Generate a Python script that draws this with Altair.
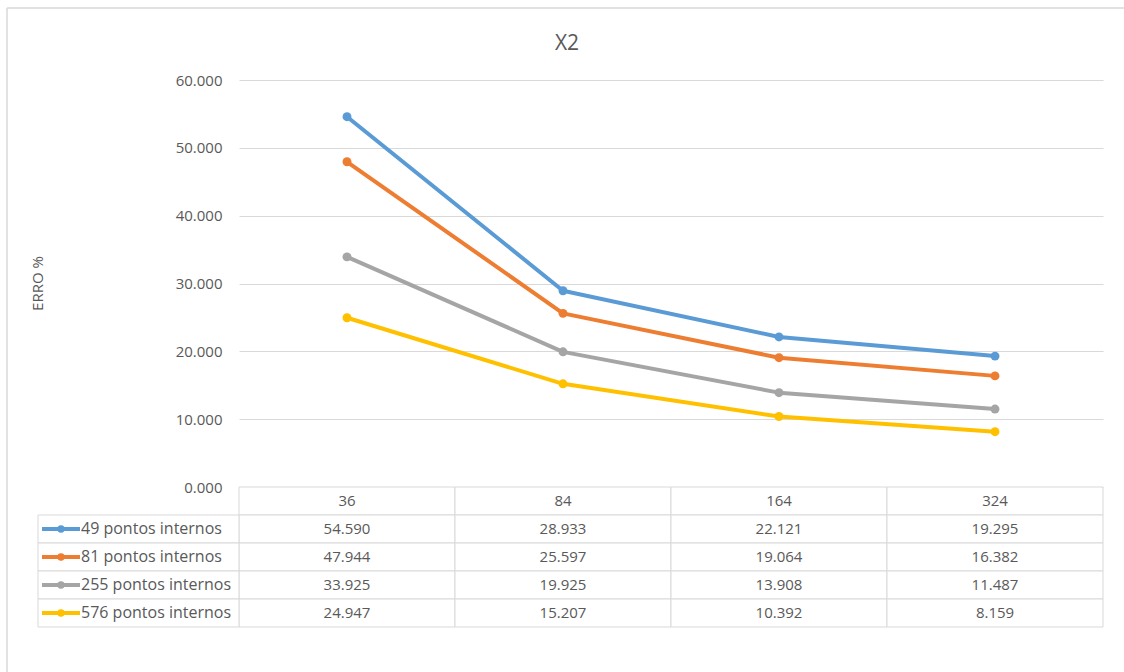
import altair as alt
import pandas as pd

FONT = "Open Sans"
TEXT_COLOR = "#595959"
GRID_COLOR = "#D9D9D9"

# Boundary point counts (x categories) and the four internal-point series
boundary_points = ["36", "84", "164", "324"]
series_names = [
    "49 pontos internos",
    "81 pontos internos",
    "255 pontos internos",
    "576 pontos internos",
]
series_colors = ["#5B9BD5", "#ED7D31", "#A5A5A5", "#FFC000"]

err_49 = [54.590, 28.933, 22.121, 19.295]
err_81 = [47.944, 25.597, 19.064, 16.382]
err_255 = [33.925, 19.925, 13.908, 11.487]
err_576 = [24.947, 15.207, 10.392, 8.159]

y_ticks = [0, 10, 20, 30, 40, 50, 60]

PLOT_W = 864
PLOT_H = 407
TABLE_H = 140

all_series = [err_49, err_81, err_255, err_576]

rows = []
for name, values in zip(series_names, all_series):
    for p, v in zip(boundary_points, values):
        rows.append({"serie": name, "pontos": p, "erro": v})
line_df = pd.DataFrame(rows)

# Data table below the plot: header row with the categories, then one row per series
table_rows = ["header"] + series_names
cells = []
for p in boundary_points:
    cells.append({"row": "header", "pontos": p, "txt": p})
for name, values in zip(series_names, all_series):
    for p, v in zip(boundary_points, values):
        cells.append({"row": name, "pontos": p, "txt": f"{v:.3f}"})
cells_df = pd.DataFrame(cells)
labels_df = pd.DataFrame({"row": series_names, "serie": series_names})

color = alt.Color(
    "serie:N",
    scale=alt.Scale(domain=series_names, range=series_colors),
    legend=None,
)

# ---- line plot ----
x_line = alt.X(
    "pontos:O",
    sort=boundary_points,
    scale=alt.Scale(type="point", domain=boundary_points, padding=0.5),
    axis=None,
)
y_line = alt.Y(
    "erro:Q",
    scale=alt.Scale(domain=[0, 60], nice=False, range=[PLOT_H, 0]),
    axis=alt.Axis(
        values=y_ticks,
        format=".3f",
        grid=True,
        gridColor=GRID_COLOR,
        gridWidth=1,
        domain=False,
        ticks=False,
        labelPadding=17,
        labelFont=FONT,
        labelFontSize=15,
        labelColor=TEXT_COLOR,
        title="ERRO %",
        titleFont=FONT,
        titleFontSize=15,
        titleFontWeight="normal",
        titleColor=TEXT_COLOR,
        titleX=-194,
        titleY=203,
        titleAngle=-90,
    ),
)

# outer chart-area border (left and top edges)
edge = pd.DataFrame({"k": [0]})
frame_left = alt.Chart(edge).mark_rule(color=GRID_COLOR, strokeWidth=1.5).encode(
    x=alt.value(-232), y=alt.value(-72), y2=alt.value(700)
)
frame_top = alt.Chart(edge).mark_rule(color=GRID_COLOR, strokeWidth=1.5).encode(
    x=alt.value(-232), x2=alt.value(1000), y=alt.value(-72)
)

lines = alt.Chart(line_df).mark_line(
    strokeWidth=4, strokeCap="round", strokeJoin="round"
).encode(x=x_line, y=y_line, color=color, detail="serie:N")

points = alt.Chart(line_df).mark_point(
    filled=True, size=80, opacity=1
).encode(x=x_line, y=y_line, color=color)

plot_layer = alt.layer(frame_left, frame_top, lines, points)

# ---- data table ----
band_x = alt.Scale(type="band", domain=boundary_points, paddingInner=0, paddingOuter=0)
x_tab = alt.X(
    "pontos:O",
    sort=boundary_points,
    scale=band_x,
    axis=alt.Axis(
        labels=False,
        ticks=False,
        domain=False,
        grid=False,
        title="QUANTIDADE DE PONTOS NO CONTORNO",
        titleFont=FONT,
        titleFontSize=15,
        titleFontWeight="normal",
        titleColor=TEXT_COLOR,
        titlePadding=7,
    ),
)
x_tab_mid = alt.X("pontos:O", sort=boundary_points, scale=band_x, bandPosition=0.5, axis=None)
tab_scale = alt.Scale(
    type="band",
    domain=table_rows,
    range=[PLOT_H, PLOT_H + TABLE_H],
    paddingInner=0,
    paddingOuter=0,
)
y_tab = alt.Y("row:N", sort=table_rows, scale=tab_scale, axis=None)
y_tab_mid = alt.Y("row:N", sort=table_rows, scale=tab_scale, axis=None, bandPosition=0.5)

cell_rects = alt.Chart(cells_df).mark_rect(
    fill="white", stroke=GRID_COLOR, strokeWidth=1
).encode(x=x_tab, y=y_tab)

cell_text = alt.Chart(cells_df).mark_text(
    font=FONT, fontSize=15, color=TEXT_COLOR, align="center", baseline="middle"
).encode(x=x_tab_mid, y=y_tab_mid, text="txt:N")

label_rects = alt.Chart(labels_df).mark_rect(
    fill="white", stroke=GRID_COLOR, strokeWidth=1
).encode(x=alt.value(-201), x2=alt.value(0), y=y_tab)

key_lines = alt.Chart(labels_df).mark_rule(strokeWidth=4).encode(
    x=alt.value(-197), x2=alt.value(-159), y=y_tab_mid, color=color
)
key_points = alt.Chart(labels_df).mark_point(filled=True, size=55, opacity=1).encode(
    x=alt.value(-178), y=y_tab_mid, color=color
)
label_text = alt.Chart(labels_df).mark_text(
    font=FONT, fontSize=16, color=TEXT_COLOR, align="left", baseline="middle"
).encode(x=alt.value(-158), y=y_tab_mid, text="serie:N")

table_layer = alt.layer(cell_rects, cell_text, label_rects, key_lines, key_points, label_text)

chart = (
    alt.layer(plot_layer, table_layer)
    .resolve_scale(x="independent", y="independent")
    .properties(
        width=PLOT_W,
        height=PLOT_H + TABLE_H,
        background="white",
        title=alt.TitleParams(
            "X2",
            font=FONT,
            fontSize=21,
            fontWeight="normal",
            color=TEXT_COLOR,
            anchor="middle",
            frame="group",
            baseline="alphabetic",
            offset=0,
            dx=-104,
            dy=64,
        ),
        padding={"left": 239, "top": 80, "right": 21, "bottom": 45},
        autosize=alt.AutoSizeParams(type="none"),
    )
    .configure_view(strokeWidth=0, stroke="transparent")
)

chart.save("out.html", embed_options={"renderer": "svg", "actions": False})
